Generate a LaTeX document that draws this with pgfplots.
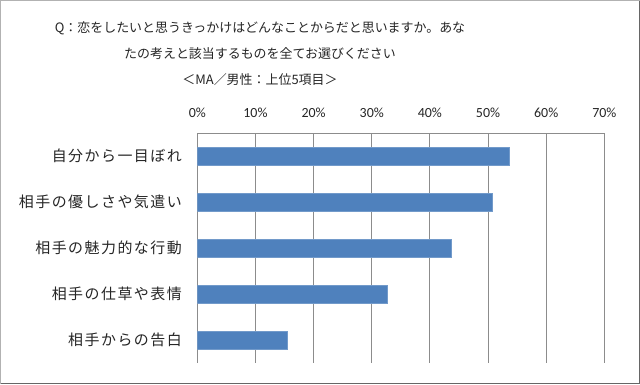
\documentclass[border=0pt]{standalone}
\usepackage{pgfplots}
\pgfplotsset{compat=1.18}
\usepackage{fontspec}
\setmainfont{Carlito}
\newfontfamily\cjk{Noto Sans CJK JP}
\newfontfamily\cjklab[LetterSpace=10]{Noto Sans CJK JP}
\definecolor{barblue}{RGB}{79,129,189}
\definecolor{gridgray}{RGB}{140,140,140}
\begin{document}
\begin{tikzpicture}[x=1bp,y=1bp]
\fill[white] (0,0) rectangle (640,384);
\draw[gray!60, line width=1bp] (0.5,0.5) rectangle (639.5,383.5);
\draw[gray!80!black, line width=1.2bp] (1,0.6) -- (639.4,0.6) -- (639.4,383);
\node[align=center, font=\cjk\fontsize{13}{26}\selectfont, text=black!85] at (260,330)
  {Q：恋をしたいと思うきっかけはどんなことからだと思いますか。あな\\
   たの考えと該当するものを全てお選びください\\
   ＜MA／男性：上位5項目＞};
\begin{axis}[
  at={(197.3bp,21bp)}, anchor=south west,
  scale only axis, width=407bp, height=230bp,
  xbar, bar width=17.5bp,
  xmin=0, xmax=70, ymin=0.5, ymax=5.5, y dir=reverse,
  axis x line=top, axis y line=left,
  x axis line style={-, draw=gridgray, line width=0.8bp},
  y axis line style={draw=none},
  xtick={0,10,...,70},
  xticklabel={\pgfmathprintnumber{\tick}\%},
  /pgf/number format/assume math mode=true,
  ytick={1,2,3,4,5},
  yticklabels={自分から一目ぼれ,相手の優しさや気遣い,相手の魅力的な行動,相手の仕草や表情,相手からの告白},
  major tick length=0pt,
  xmajorgrids,
  major grid style={draw=gridgray, line width=0.8bp},
  every x tick label/.append style={font=\fontsize{14}{16}\selectfont, text=black!85, yshift=12bp},
  every y tick label/.append style={font=\cjklab\fontsize{15}{17}\selectfont, text=black!85, xshift=-12bp},
]
\addplot[fill=barblue, draw=barblue!80!white] coordinates {(53.6,1) (50.8,2) (43.6,3) (32.6,4) (15.4,5)};
\end{axis}
\end{tikzpicture}
\end{document}
